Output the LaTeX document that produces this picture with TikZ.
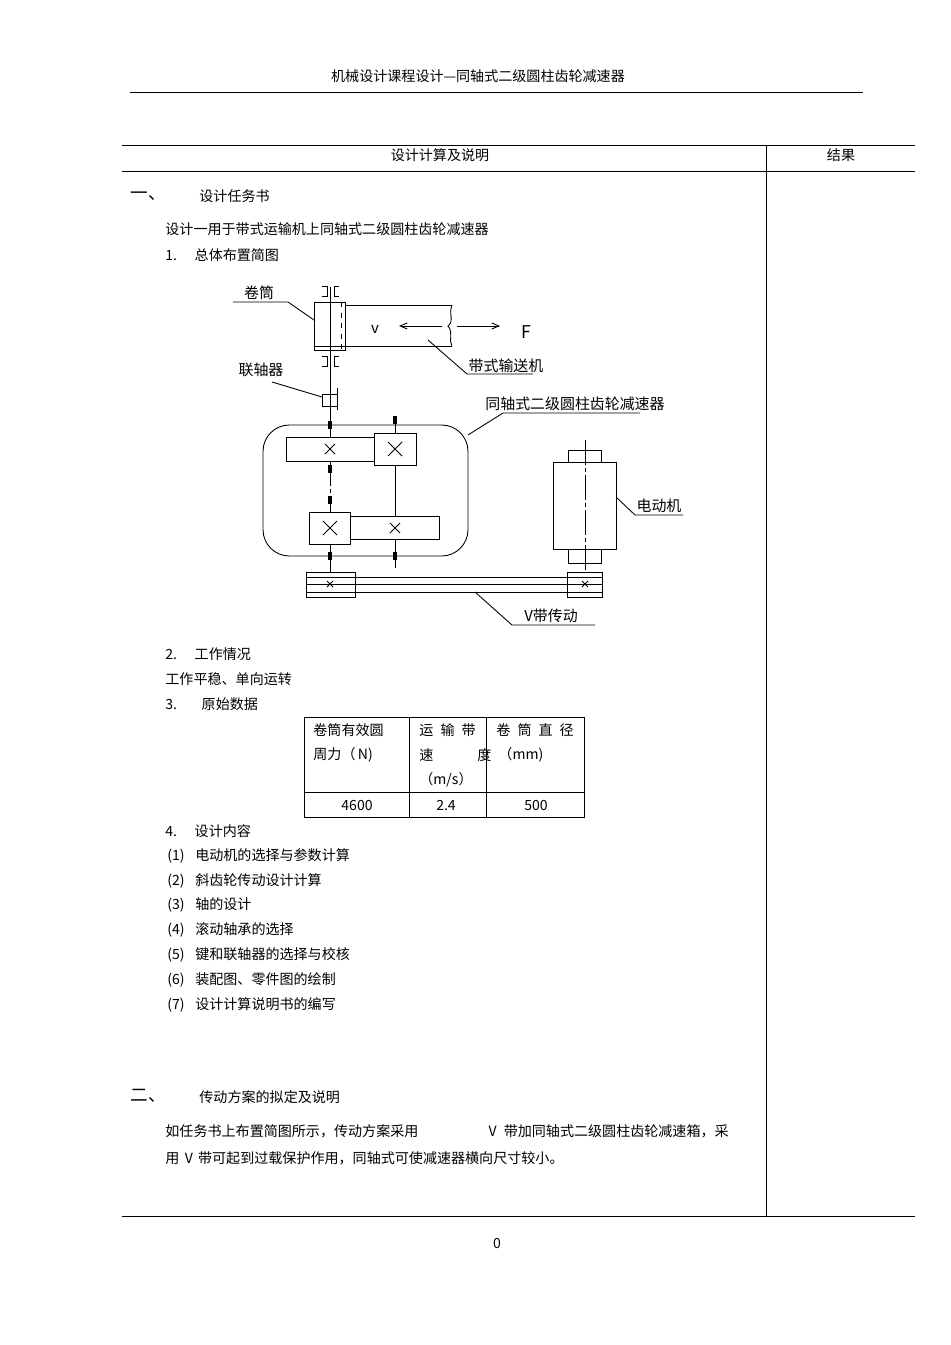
\documentclass[tikz,border=0pt]{standalone}
\usepackage{fontspec}
\setmainfont{Noto Sans CJK SC}
\usetikzlibrary{positioning,arrows}
\tikzset{
	txt/.style = {anchor = west, inner sep = 0pt, font = \fontsize{8}{10}\selectfont},
	ctr/.style = {inner sep = 0pt, font = \fontsize{8}{10}\selectfont},
	lbl/.style = {inner sep = 0pt, font = \fontsize{8.5}{10}\selectfont},
	axis/.style = {thin, dash pattern = on 14pt off 2pt on 2pt off 2pt},
	brg/.style = {line width = 2.2pt}
}
\begin{document}
\begin{tikzpicture}[x=0.02cm, y=-0.02cm, line width=0.5pt]
	\useasboundingbox (0,0) rectangle (950,1345);
	\fill[white] (0,0) rectangle (950,1345);

	% page frame
	\node [ctr] (head) at (478,76) {机械设计课程设计—同轴式二级圆柱齿轮减速器};
	\draw (130,92) -- (863,92);
	\draw (122,145) -- (915,145);
	\draw (122,171) -- (915,171);
	\draw (766,145) -- (766,1216);
	\draw (122,1216) -- (915,1216);
	\node [ctr] (colA) at (440,155) {设计计算及说明};
	\node [ctr] (colB) at (841,155) {结果};
	\node [ctr] (pg) at (497,1243) {0};

	% text
	\node [txt, font=\fontsize{10}{12}\selectfont] (s1) at (130,196) {一、};
	\node [txt] (s1t) at (199,196) {设计任务书};
	\node [txt] (p1) at (165,229) {设计一用于带式运输机上同轴式二级圆柱齿轮减速器};
	\node [txt] (i1) at (165,255) {1.\hspace{10pt}总体布置简图};
	\node [txt] (i2) at (165,654) {2.\hspace{10pt}工作情况};
	\node [txt] (p2) at (165,679) {工作平稳、单向运转};
	\node [txt] (i3) at (165,704) {3.\hspace{14pt}原始数据};
	\node [txt] (i4) at (165,831) {4.\hspace{10pt}设计内容};
	\foreach \k/\t [count=\n] in {1/电动机的选择与参数计算,2/斜齿轮传动设计计算,3/轴的设计,4/滚动轴承的选择,5/键和联轴器的选择与校核,6/装配图、零件图的绘制,7/设计计算说明书的编写}
		\node [txt] (c\n) at (167,{831+\n*24.8}) {(\k)\hspace{6pt}\t};
	\node [txt, font=\fontsize{10}{12}\selectfont] (s2) at (130,1096) {二、};
	\node [txt] (s2t) at (199,1097) {传动方案的拟定及说明};
	\node [txt] (p3) at (165,1131) {如任务书上布置简图所示，传动方案采用\hspace{40pt}V\hspace{4pt}带加同轴式二级圆柱齿轮减速箱，采};
	\node [txt] (p4) at (165,1158) {用\hspace{3pt}V\hspace{3pt}带可起到过载保护作用，同轴式可使减速器横向尺寸较小。};

	% data table
	\draw (304,717) rectangle (584,817);
	\draw (409,717) -- (409,817);
	\draw (486,717) -- (486,817);
	\draw (304,792) -- (584,792);
	\node [txt] (h1a) at (313,730) {卷筒有效圆};
	\node [txt] (h1b) at (313,755) {周力（\,N)};
	\node [txt] (h2a) at (419,730) {运\hspace{4pt}输\hspace{4pt}带};
	\node [txt] (h2b) at (419,755) {速\hspace{25pt}度};
	\node [ctr] (h2c) at (446,780) {（m/s）};
	\node [txt] (h3a) at (496,730) {卷\hspace{4pt}筒\hspace{4pt}直\hspace{4pt}径};
	\node [txt] (h3b) at (498,755) {（mm)};
	\node [ctr] (d1) at (357,805) {4600};
	\node [ctr] (d2) at (446,805) {2.4};
	\node [ctr] (d3) at (536,805) {500};

	% drum and conveyor
	\draw (314,302) rectangle (345,350);
	\draw (314,346) -- (345,346);
	\draw (345,305) -- (452,305);
	\draw (345,346) -- (452,346);
	\draw (452,305) .. controls (448,315) and (455,320) .. (448,326) .. controls (454,333) and (448,340) .. (452,346);
	\draw [dashed] (341,302) -- (341,350);
	\draw (322,286) -- (327,286) -- (327,296) -- (322,296);
	\draw (339,286) -- (334,286) -- (334,296) -- (339,296);
	\draw (322,356) -- (327,356) -- (327,366) -- (322,366);
	\draw (339,356) -- (334,356) -- (334,366) -- (339,366);
	\node [lbl] (v) at (375,329) {v};
	\coordinate (va) at (442,326);
	\coordinate (vb) at (399,326);
	\draw [->, >=angle 45] (va) -- (vb);
	\coordinate (fa) at (457,326);
	\coordinate (fb) at (500,326);
	\draw [->, >=angle 45] (fa) -- (fb);
	\node [lbl, font=\fontsize{10}{12}\selectfont] (F) at (526,332) {F};

	% coupling and shafts
	\draw (322,394) rectangle (337,406);
	\draw (337,388) -- (337,410);
	\draw (330,287) -- (330,437);
	\draw (330,544) -- (330,572);
	\draw [axis] (330,461) -- (330,512);
	\draw (395,421) -- (395,568);
	\foreach \x/\y in {330/425,330/469,330/500,330/556,395/420,395/556}
		\draw [brg] (\x,\y-4) -- (\x,\y+4);

	% reducer
	\draw [rounded corners=15] (263,425) rectangle (468,556);
	\node [draw, fill=white, minimum width=88*0.02cm, minimum height=24*0.02cm, inner sep=0pt] (g1) at (330,449) {};
	\node [draw, fill=white, minimum width=42*0.02cm, minimum height=32*0.02cm, inner sep=0pt] (g2) at (395,449) {};
	\node [draw, fill=white, minimum width=89*0.02cm, minimum height=23*0.02cm, inner sep=0pt] (g4) at (394.5,527.5) {};
	\node [draw, fill=white, minimum width=41*0.02cm, minimum height=32*0.02cm, inner sep=0pt] (g3) at (330,528) {};
	\foreach \x/\y/\s in {330/449/5,395/449/7,330/528/7,395/528/5}
		\draw (\x-\s,\y-\s) -- (\x+\s,\y+\s) (\x-\s,\y+\s) -- (\x+\s,\y-\s);

	% motor
	\draw (553,462) rectangle (616,549);
	\draw (568,462) -- (568,450) -- (601,450) -- (601,462);
	\draw (568,549) -- (568,563) -- (601,563) -- (601,549);
	\draw [axis] (585,440) -- (585,572);

	% v-belt drive
	\draw (306,572) rectangle (355,597);
	\draw (567,572) rectangle (602,597);
	\foreach \y in {577,584,592}
		\draw (306,\y) -- (602,\y);
	\foreach \x in {330,585}
		\draw (\x-3,581) -- (\x+3,587) (\x-3,587) -- (\x+3,581);

	% labels
	\node [lbl] (juan) at (259,293) {卷筒};
	\draw (233,302) -- (288,302) -- (314,320);
	\node [lbl] (belt) at (506,366) {带式输送机};
	\draw (428,340) -- (467,374) -- (533,374);
	\node [lbl] (lzq) at (261,370) {联轴器};
	\draw (272,382) -- (322,397);
	\node [lbl] (red) at (575,404) {同轴式二级圆柱齿轮减速器};
	\draw (468,435) -- (503,413) -- (640,413);
	\node [lbl] (mot) at (659,506) {电动机};
	\draw (616,497) -- (635,515) -- (683,515);
	\node [lbl] (vbl) at (551,616) {V带传动};
	\draw (475,592) -- (512,625) -- (595,625);
\end{tikzpicture}
\end{document}
